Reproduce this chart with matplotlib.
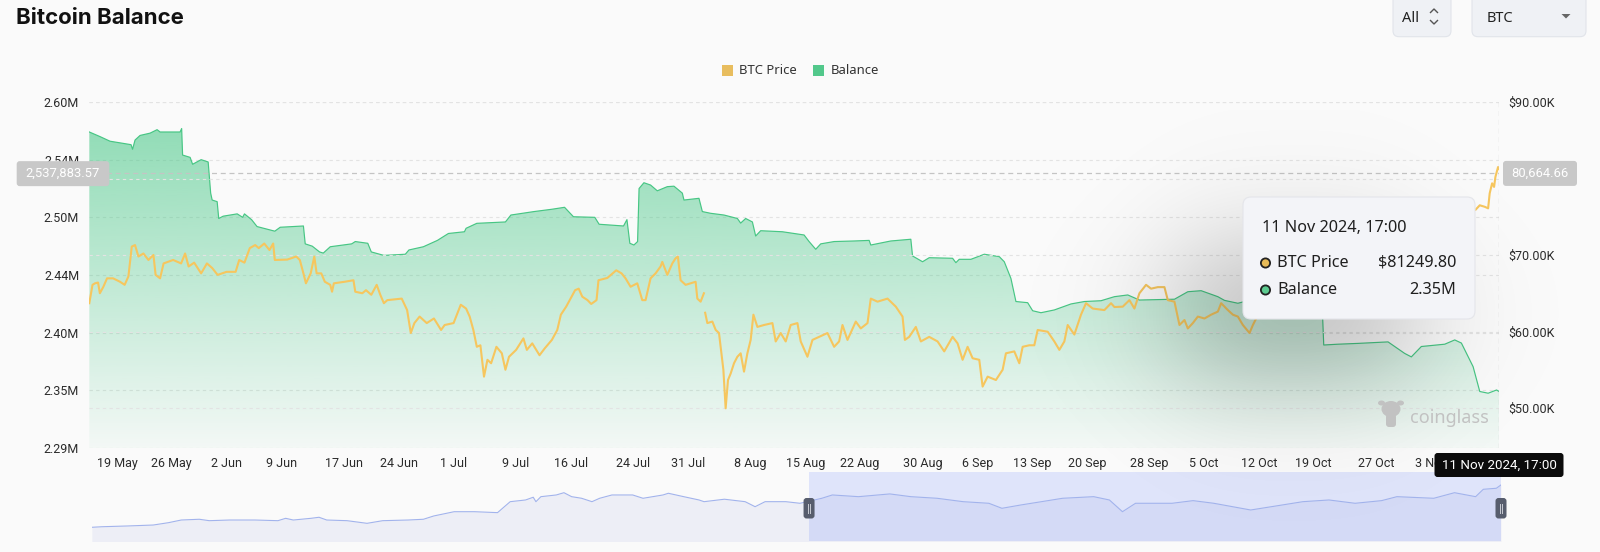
import numpy as np
import matplotlib
matplotlib.use('Agg')
import matplotlib.pyplot as plt
import matplotlib.dates as mdates
from matplotlib.patches import FancyBboxPatch, Circle, Rectangle, Polygon, Ellipse
from matplotlib.colors import to_rgb

W, H = 1600, 552
BG = '#fafafa'
GREEN = '#4cc98a'
GREEN_LINE = '#47c684'
GOLD = '#f6c65e'
AXIS_FONT = ['Roboto', 'DejaVu Sans']
UI_FONT = ['Noto Sans', 'DejaVu Sans']
plt.rcParams['font.family'] = AXIS_FONT

# --- data (x = days after 19 May 2024 00:00) ---
bal_day = [-3.55, -2.18, -0.90, 1.79, 1.98, 2.30, 2.94, 4.22, 5.12, 5.50, 8.06, 8.26, 8.38,
           9.34, 9.66, 10.75, 11.65, 11.97, 12.16, 12.80, 13.00, 13.57, 15.36, 16.06, 16.29,
           17.20, 17.90, 20.17, 20.86, 23.83, 24.06, 24.96, 25.89, 26.37, 27.26, 30.00, 30.46,
           32.06, 32.51, 34.12, 36.86, 37.32, 39.17, 40.96, 42.37, 44.42, 44.63, 46.00, 49.66,
           50.36, 53.32, 55.60, 57.22, 58.36, 61.09, 61.64, 64.76, 65.20, 65.57, 66.09, 66.56,
           66.75, 67.37, 68.22, 69.08, 70.36, 71.21, 72.28, 72.49, 74.41, 74.84, 75.90, 77.61,
           79.32, 79.74, 80.38, 81.24, 81.66, 82.30, 85.08, 87.85, 88.49, 89.34, 89.98, 91.69,
           94.25, 96.17, 96.38, 98.94, 101.50, 101.72, 103.00, 103.85, 106.84, 107.26, 107.69,
           109.18, 110.89, 112.81, 113.45, 114.30, 114.94, 116.44, 117.08, 118.14, 119.85,
           121.98, 123.69, 125.82, 127.53, 129.24, 130.73, 135.21, 136.92, 138.62, 140.76,
           141.61, 143.32, 144.17, 146.30, 148.86, 151.42, 154.10, 154.30, 156.12, 158.68,
           162.52, 163.37, 164.65, 165.50, 166.78, 169.77, 171.05, 171.90, 173.40, 174.25,
           175.32, 176.40, 176.71]
bal_val = [2.574, 2.570, 2.566, 2.563, 2.559, 2.567, 2.571, 2.573, 2.576, 2.574, 2.574, 2.577, 2.554,
           2.552, 2.546, 2.550, 2.548, 2.521, 2.515, 2.5136, 2.499, 2.501, 2.503, 2.500, 2.503,
           2.498, 2.492, 2.488, 2.4914, 2.4925, 2.477, 2.475, 2.470, 2.469, 2.4745, 2.477, 2.479,
           2.4775, 2.470, 2.467, 2.468, 2.4717, 2.4745, 2.480, 2.486, 2.4875, 2.4905, 2.4948, 2.496,
           2.502, 2.505, 2.507, 2.5087, 2.5005, 2.500, 2.494, 2.4925, 2.498, 2.4775, 2.476, 2.479,
           2.525, 2.530, 2.528, 2.523, 2.5266, 2.527, 2.521, 2.515, 2.5165, 2.505, 2.5035, 2.502,
           2.499, 2.495, 2.499, 2.496, 2.4838, 2.4884, 2.4875, 2.4847, 2.479, 2.4723, 2.477, 2.479,
           2.4795, 2.480, 2.476, 2.4795, 2.481, 2.4665, 2.4615, 2.465, 2.4645, 2.4607, 2.4636,
           2.4636, 2.468, 2.4659, 2.4615, 2.447, 2.427, 2.426, 2.419, 2.4173, 2.4197,
           2.4249, 2.427, 2.4277, 2.4312, 2.4327, 2.4283, 2.429, 2.4355, 2.4364, 2.4312,
           2.428, 2.4255, 2.427, 2.424, 2.426, 2.422, 2.423, 2.3893, 2.390, 2.3907,
           2.392, 2.388, 2.382, 2.379, 2.388, 2.390, 2.3937, 2.391, 2.3705, 2.349,
           2.3475, 2.3503, 2.349]

price_day = [-3.55, -3.14, -2.82, -2.43, -2.20, -1.75, -1.28, -0.51, 0.38, 0.97, 1.45, 1.88, 2.30,
             2.73, 3.37, 4.01, 4.65, 4.93, 5.50, 5.95, 7.17, 8.19, 8.70, 9.15, 9.86, 10.75, 11.49,
             12.16, 12.86, 14.00, 15.16, 15.62, 16.29, 16.97, 17.66, 18.12, 18.82, 19.49, 19.96,
             20.17, 21.76, 22.91, 23.37, 23.83, 24.15, 24.76, 25.22, 25.52, 26.11, 26.57, 27.26,
             27.49, 27.72, 29.09, 30.23, 30.46, 31.36, 31.83, 32.51, 33.20, 33.66, 34.12, 34.56,
             36.40, 37.09, 37.56, 38.02, 38.69, 39.60, 40.52, 41.43, 41.89, 43.03, 43.95, 44.63,
             45.09, 45.56, 46.00, 46.46, 46.92, 47.36, 47.83, 48.51, 49.20, 49.66, 50.12, 51.03,
             51.96, 52.40, 53.09, 54.02, 54.69, 55.60, 56.29, 56.75, 57.43, 58.11, 58.57, 59.03,
             59.49, 60.16, 60.63, 61.31, 61.56, 62.69, 63.37, 63.83, 64.51, 65.02, 65.66, 66.52,
             67.16, 67.58, 68.22, 68.86, 69.50, 69.72, 70.36, 71.00, 71.42, 71.71, 72.06, 72.70,
             73.34, 73.98, 74.20, 74.62, 75.04, 75.10, 75.20, 75.48, 76.12, 76.55, 76.97, 77.18,
             77.53, 77.82, 78.12, 78.46, 78.89, 79.32, 79.74, 80.17, 80.60, 81.02, 81.37, 81.88,
             82.73, 83.80, 84.22, 84.86, 85.50, 86.14, 87.00, 87.42, 88.28, 88.92, 89.77, 90.84,
             91.69, 92.33, 92.76, 93.40, 94.46, 95.10, 95.96, 96.38, 97.24, 98.52, 99.58, 100.44,
             100.74, 101.29, 102.14, 102.78, 103.85, 104.92, 105.77, 106.84, 107.48, 108.12,
             108.76, 109.40, 110.25, 110.68, 111.32, 112.38, 113.24, 113.66, 114.73, 115.37,
             115.80, 116.65, 117.29, 117.72, 119.00, 119.85, 120.49, 121.13, 121.56, 122.41,
             123.26, 123.90, 124.76, 126.25, 127.10, 127.53, 128.60, 129.45, 130.09, 130.73,
             131.58, 132.22, 133.08, 133.93, 134.36, 135.21, 135.85, 136.49, 136.92, 137.56,
             138.20, 139.05, 139.90, 140.76, 141.18, 142.04, 142.68, 143.32, 143.96, 144.81,
             145.24, 145.66, 146.94, 148.22, 150.14, 152.06, 154.00, 155.90, 157.80, 159.70,
             161.66, 163.60, 165.50, 167.40, 169.40, 171.30, 172.60, 173.70, 174.25, 174.89,
             175.32, 175.52, 175.83, 176.08, 176.25, 176.59, 176.71]
price_val = [63.7, 66.1, 66.3, 66.4, 65.0, 65.85, 66.95, 66.95, 66.5, 66.1, 67.2, 71.1, 71.3,
             69.8, 70.2, 69.35, 70.0, 67.4, 66.95, 68.9, 69.35, 68.9, 70.2, 68.5, 69.0, 67.6, 68.9,
             68.3, 67.4, 67.8, 67.8, 69.35, 69.0, 70.9, 71.3, 70.9, 71.5, 70.65, 71.5,
             69.35, 69.4, 69.8, 69.35, 67.6, 66.3, 67.6, 69.8, 67.6, 67.6, 66.5, 66.1,
             65.2, 66.3, 66.5, 66.7, 65.2, 65.0, 65.4, 64.8, 66.1, 64.8, 63.7, 64.1,
             64.3, 62.8, 59.8, 61.1, 61.95, 61.1, 61.7, 60.2, 60.85, 61.1, 63.5, 63.0,
             61.95, 60.2, 58.0, 58.2, 54.1, 56.3, 55.85, 58.0, 57.15, 55.0, 56.7, 57.6,
             59.1, 57.6, 58.45, 56.9, 57.8, 58.9, 60.2, 62.2, 63.25, 64.55, 65.4, 65.6,
             64.55, 64.1, 63.6, 64.1, 66.7, 67.0, 67.6, 68.0, 67.6, 66.95, 65.85, 66.3,
             64.1, 64.1, 66.95, 67.6, 68.5, 69.1, 67.4, 68.9, 69.57, 69.8, 66.7, 66.1,
             66.3, 66.5, 64.3, 63.9, 65.0, np.nan, 62.45, 61.1, 61.3, 60.2, 59.8, 58.0,
             55.0, 49.96, 53.66, 54.5, 55.85, 56.7, 57.15, 54.75, 57.15, 58.9, 62.2, 60.6,
             60.85, 61.1, 58.7, 59.8, 58.7, 60.85, 61.1, 58.7, 56.7, 58.9, 59.3, 59.8,
             58.0, 58.7, 60.85, 58.9, 61.3, 60.4, 61.1, 64.3, 63.9, 64.3, 63.25, 61.95,
             58.9, 59.3, 60.6, 58.7, 59.3, 58.7, 57.4, 59.3, 58.45, 56.3,
             58.0, 56.5, 56.3, 52.8, 54.1, 53.66, 55.0, 57.15, 57.4, 55.85,
             58.0, 58.2, 58.2, 60.2, 59.97, 58.7, 57.6, 58.7, 60.85, 59.6,
             62.2, 63.7, 63.0, 62.8, 63.7, 63.2, 63.25, 64.1, 63.0, 65.0,
             66.1, 65.6, 65.8, 65.8, 64.1, 63.9, 60.85, 61.5, 60.4, 61.1,
             61.95, 61.7, 62.2, 62.6, 63.7, 62.8, 62.2, 61.95, 60.85, 59.8,
             60.85, 61.7, 64.5, 66.0, 67.5, 68.3, 68.8, 67.0, 66.8, 69.5,
             72.0, 69.5, 68.5, 67.8, 69.5, 74.5, 75.8, 75.9, 76.5, 76.3,
             76.1, 78.07, 79.37, 78.9, 80.2, 81.5, 81.25]

# overview (data-zoom slider) series, full history, price in K
mini_day = [-190.4, -187.7, -181.1, -174.4, -170.4, -167.1, -162.4, -159.8, -154.5, -147.9,
            -141.9, -139.9, -137.9, -133.3, -131.2, -129.2, -123.9, -118.7, -114.6, -108.0,
            -104.0, -101.3, -96.0, -90.7, -84.7, -83.4, -81.4, -77.4, -75.4, -74.7, -73.4,
            -69.4, -67.4, -65.4, -62.8, -60.1, -58.1, -54.9, -49.5, -46.8, -41.6, -40.2, -36.2,
            -32.2, -30.9, -25.6, -20.2, -17.6, -15.0, -9.6, -5.9, -0.22, 2.52, 9.34, 17.5,
            22.97, 29.8, 36.6, 43.3, 46.7, 51.6, 57.0, 62.5, 70.6, 74.7, 78.1, 81.5, 91.0,
            96.5, 101.9, 111.5, 119.7, 125.1, 131.9, 138.7, 145.6, 149.6, 159.2, 164.6, 170.1,
            172.1, 175.5, 176.7]
mini_val = [36.5, 37.1, 37.9, 38.9, 41.4, 44.2, 45.0, 43.5, 44.2, 44.2,
            43.5, 46.0, 44.2, 46.0, 47.1, 44.2, 43.5, 40.7, 43.5, 44.2,
            45.0, 48.5, 53.0, 53.0, 52.0, 56.6, 63.6, 65.4, 68.3, 63.6, 68.9,
            70.7, 73.1, 68.9, 67.2, 63.6, 67.2, 70.7, 70.7, 67.2, 70.7, 72.5, 68.9,
            65.4, 63.6, 66.2, 63.6, 58.3, 63.6, 63.6, 61.9, 67.2, 70.7, 68.9, 71.8,
            68.9, 67.2, 63.6, 61.9, 56.6, 60.1, 63.6, 67.2, 68.9, 65.4, 53.0, 61.9, 61.9,
            64.7, 61.9, 54.8, 60.1, 63.6, 65.4, 61.9, 64.7, 68.9, 67.2, 73.1, 68.9,
            76.7, 77.8, 81.3]

# the 11 Nov tick sits under the axis-pointer label in the reference, so it is left out
tick_dates = ['2024-05-19', '2024-05-26', '2024-06-02', '2024-06-09', '2024-06-17', '2024-06-24',
              '2024-07-01', '2024-07-09', '2024-07-16', '2024-07-24', '2024-07-31', '2024-08-08',
              '2024-08-15', '2024-08-22', '2024-08-30', '2024-09-06', '2024-09-13', '2024-09-20',
              '2024-09-28', '2024-10-05', '2024-10-12', '2024-10-19', '2024-10-27', '2024-11-03']
bal_ticks = [2.30, 2.35, 2.40, 2.45, 2.50, 2.55, 2.60]
bal_tick_labels = ['2.29M', '2.35M', '2.40M', '2.44M', '2.50M', '2.54M', '2.60M']
price_ticks = [50, 60, 70, 80, 90]
price_tick_labels = ['$50.00K', '$60.00K', '$70.00K', '', '$90.00K']  # 80K hidden by pointer label
cursor_balance = 2.53788357
cursor_price = 80.66466

base = mdates.date2num(np.datetime64('2024-05-19T00:00'))
bx = base + np.array(bal_day)
by = np.array(bal_val)
px = base + np.array(price_day)
py = np.array(price_val)
mx = base + np.array(mini_day)
my = np.array(mini_val)
t_end = base + price_day[-1]
t_start = base + price_day[0]

fig = plt.figure(figsize=(W / 100, H / 100), dpi=100, facecolor=BG)


def frac(x0, y0, x1, y1):
    return [x0 / W, 1 - y1 / H, (x1 - x0) / W, (y1 - y0) / H]


grid_kw = dict(color='#e3e3e3', lw=0.8, ls=(0, (3, 3)))

# --- main chart ---
ax = fig.add_axes(frac(89.3, 102, 1499, 448))
ax.patch.set_visible(False)
ax.set_axisbelow(True)
ax.set_ylim(2.30, 2.60)
ax.set_yticks(bal_ticks)
ax.set_yticklabels(bal_tick_labels)
ax.yaxis.grid(True, **grid_kw)
ax.tick_params(axis='y', length=0, pad=7.3, labelsize=9, labelcolor='#2b2b2b')
ax.set_xticks(mdates.date2num(np.array(tick_dates, dtype='datetime64[m]')))
ax.xaxis.set_major_formatter(mdates.DateFormatter('%-d %b'))
ax.tick_params(axis='x', length=0, pad=6.5, labelsize=9, labelcolor='#2b2b2b')

# balance area with vertical gradient
poly = ax.fill_between(bx, by, 2.30, facecolor='none', edgecolor='none')
ramp = np.linspace(0.04, 0.6, 256).reshape(-1, 1)
grad = np.zeros((256, 1, 4))
grad[..., :3] = to_rgb(GREEN)
grad[..., 3] = ramp
im = ax.imshow(grad, extent=[bx.min(), bx.max(), 2.30, by.max()], origin='lower',
               aspect='auto', zorder=1, interpolation='bilinear')
im.set_clip_path(poly.get_paths()[0], transform=ax.transData)
ax.plot(bx, by, color=GREEN_LINE, lw=0.85, zorder=2)
ax.set_xlim(t_start, t_end)
ax.set_ylim(2.30, 2.60)

ax2 = ax.twinx()
ax2.set_ylim(90 - 346 / 76.5 * 10, 90)
ax2.set_yticks(price_ticks)
ax2.set_yticklabels(price_tick_labels)
ax2.yaxis.grid(True, **grid_kw)
ax2.tick_params(axis='y', length=0, pad=6.5, labelsize=9, labelcolor='#2b2b2b')
ax2.plot(px, py, color=GOLD, lw=1.5, zorder=3, solid_joinstyle='round')
ax2.axhline(cursor_price, color='#c4c4c4', lw=0.9, ls=(0, (4, 3)), zorder=4)
ax2.axvline(t_end, color='#c4c4c4', lw=0.9, ls=(0, (4, 3)), zorder=4)
ax2.set_xlim(t_start, t_end)
for a in (ax, ax2):
    for s in a.spines.values():
        s.set_visible(False)

# --- data-zoom slider ---
sl = fig.add_axes(frac(91.8, 472, 1501, 541))
sl.patch.set_visible(False)
sl.axvspan(t_start, t_end, color='#dfe4fa', lw=0, zorder=0)
sl.fill_between(mx, my, 0, color=(0.35, 0.42, 0.78), alpha=0.08, lw=0, zorder=1)
sl.plot(mx, my, color='#a2b3ec', lw=0.8, zorder=2)
sl.set_xlim(mx.min(), t_end)
sl.set_ylim(22, 95)
sl.axis('off')

# --- overlay in pixel coordinates for UI pieces ---
ov = fig.add_axes([0, 0, 1, 1], zorder=10)
ov.patch.set_visible(False)
ov.set_xlim(0, W)
ov.set_ylim(H, 0)
ov.axis('off')


def to_px(a, x, y):
    return ov.transData.inverted().transform(a.transData.transform((x, y)))


# tooltip shadow
tip = (1243, 197, 1475, 319)
gx, gy = np.meshgrid(np.arange(900, W) + 0.5, np.arange(110, H) + 0.5)


def soft_box(v, lo, hi, s):
    return 0.5 * (np.tanh((v - lo) / s) - np.tanh((v - hi) / s))


shade = np.zeros(gx.shape + (4,))
shade[..., 3] = 0.30 * soft_box(gx, tip[0] - 65, tip[2] - 65, 75) * soft_box(gy, tip[1] + 55, tip[3] + 55, 70)
ov.imshow(shade, extent=[900, W, H, 110], origin='upper', aspect='auto', zorder=1, interpolation='bilinear')
ov.set_xlim(0, W)
ov.set_ylim(H, 0)

# title and top controls
ov.text(16, 18, 'Bitcoin Balance', fontsize=16, fontweight='bold', family=['Inter', 'DejaVu Sans'],
        color='#111111', va='center', ha='left')
for x0, x1 in ((1393, 1451), (1472, 1586)):
    ov.add_patch(FancyBboxPatch((x0, -12), x1 - x0, 48.7, boxstyle='round,pad=0,rounding_size=6',
                                fc='#eff1f5', ec='#e1e4ea', lw=0.8, zorder=2))
ov.text(1402, 18, 'All', fontsize=10.5, family=UI_FONT, color='#222222', va='center', ha='left', zorder=3)
ov.plot([1430.5, 1434, 1437.5], [12.5, 9, 12.5], color='#555555', lw=1, zorder=3)
ov.plot([1430.5, 1434, 1437.5], [20.5, 24, 20.5], color='#555555', lw=1, zorder=3)
ov.text(1487, 18, 'BTC', fontsize=10.5, family=UI_FONT, color='#222222', va='center', ha='left', zorder=3)
ov.add_patch(Polygon([(1561.5, 14), (1570.5, 14), (1566, 18.5)], closed=True, fc='#666666', ec='none', zorder=3))

# legend
ov.add_patch(Rectangle((721.7, 64.5), 10.8, 11, fc='#e8bd5e', ec='none'))
ov.text(739, 70, 'BTC Price', fontsize=9.4, family=UI_FONT, color='#333333', va='center', ha='left')
ov.add_patch(Rectangle((813, 64.5), 11, 11, fc='#52c88b', ec='none'))
ov.text(831, 70, 'Balance', fontsize=9.4, family=UI_FONT, color='#333333', va='center', ha='left')

# axis pointer labels
_, ly = to_px(ax, t_start, cursor_balance)
ov.add_patch(FancyBboxPatch((16.7, ly - 12.5), 92.6, 25, boxstyle='round,pad=0,rounding_size=3',
                            fc='#c8c8c8', ec='none', zorder=5))
ov.text(63, ly, '2,537,883.57', fontsize=9.4, color='white', ha='center', va='center', zorder=6)
_, ry = to_px(ax2, t_end, cursor_price)
ov.add_patch(FancyBboxPatch((1503, ry - 12.5), 74, 25, boxstyle='round,pad=0,rounding_size=3',
                            fc='#c8c8c8', ec='none', zorder=5))
ov.text(1540, ry, '80,664.66', fontsize=9.4, color='white', ha='center', va='center', zorder=6)
ex, _ = to_px(ax, t_end, 2.30)
ov.add_patch(FancyBboxPatch((ex - 64.5, 453), 129, 24, boxstyle='round,pad=0,rounding_size=3',
                            fc='#0b0b0b', ec='none', zorder=5))
ov.text(ex, 465.5, '11 Nov 2024, 17:00', fontsize=9.6, color='white', ha='center', va='center', zorder=6)

# slider handles
for t in (t_start, t_end):
    hx, _ = to_px(sl, t, 50)
    ov.add_patch(FancyBboxPatch((hx - 5.5, 498), 11, 20.5, boxstyle='round,pad=0,rounding_size=3',
                                fc='#575d6d', ec='none', zorder=5))
    ov.plot([hx - 1.3, hx - 1.3], [503.5, 513], color='#c9ccd4', lw=0.7, zorder=6)
    ov.plot([hx + 1.3, hx + 1.3], [503.5, 513], color='#c9ccd4', lw=0.7, zorder=6)

# watermark
wm = '#c2c2c2'
ov.add_patch(Ellipse((1391, 409), 19, 16, fc=wm, ec='none', zorder=3))
ov.add_patch(Ellipse((1381.5, 403), 7, 5, fc=wm, ec='none', zorder=3))
ov.add_patch(Ellipse((1400.5, 403), 7, 5, fc=wm, ec='none', zorder=3))
ov.add_patch(FancyBboxPatch((1386, 414), 10, 13, boxstyle='round,pad=0,rounding_size=3', fc=wm, ec='none', zorder=3))
ov.text(1410, 418, 'coinglass', fontsize=13, fontweight='bold', family=UI_FONT, color=wm,
        ha='left', va='center', zorder=3)

# tooltip
ov.add_patch(FancyBboxPatch((tip[0], tip[1]), tip[2] - tip[0], tip[3] - tip[1],
                            boxstyle='round,pad=0,rounding_size=8', fc='#f3f4f8', ec='#e4e5ea', lw=0.8, zorder=7))
ov.text(1262, 228.5, '11 Nov 2024, 17:00', fontsize=11.7, family=UI_FONT, color='#1f1f1f',
        ha='left', va='center', zorder=8)
rows = [(263, '#e8bb58', 'BTC Price', '$81249.80'), (290, '#5ccb90', 'Balance', '2.35M')]
for yy, c, name, val in rows:
    ov.add_patch(Circle((1265.5, yy), 4.6, fc=c, ec='#222222', lw=1.3, zorder=8))
    ov.text(1277, yy, name, fontsize=11.7, family=UI_FONT, color='#1f1f1f', ha='left', va='center', zorder=8)
    ov.text(1456.5, yy, val, fontsize=11.7, family=UI_FONT, color='#1f1f1f', ha='right', va='center', zorder=8)

fig.savefig('out.png', dpi=100, facecolor=BG)
